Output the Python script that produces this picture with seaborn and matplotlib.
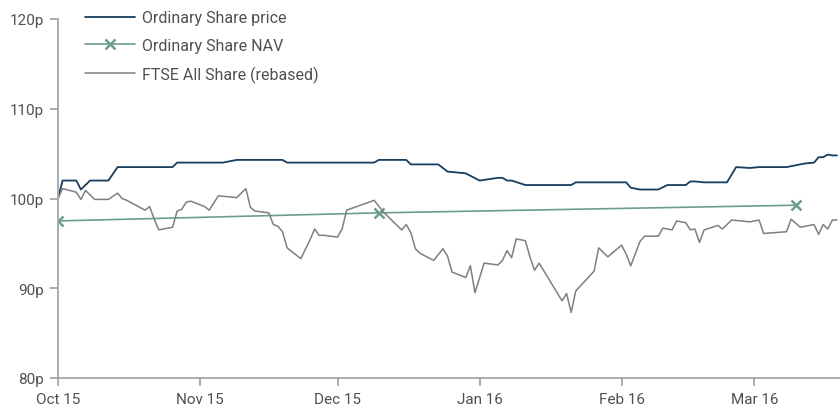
import pandas as pd
import numpy as np
import seaborn as sns
import matplotlib.pyplot as plt
import matplotlib.dates as mdates

# Ordinary Share price (pence)
price_dates = ['2015-10-01', '2015-10-02', '2015-10-05', '2015-10-06', '2015-10-08',
               '2015-10-12', '2015-10-14', '2015-10-26', '2015-10-27', '2015-11-06',
               '2015-11-09', '2015-11-19', '2015-11-20', '2015-12-09', '2015-12-10',
               '2015-12-16', '2015-12-17', '2015-12-23', '2015-12-24', '2015-12-25',
               '2015-12-29', '2016-01-01', '2016-01-05', '2016-01-06', '2016-01-07',
               '2016-01-08', '2016-01-11', '2016-01-21', '2016-01-22', '2016-02-02',
               '2016-02-03', '2016-02-05', '2016-02-09', '2016-02-11', '2016-02-15',
               '2016-02-16', '2016-02-17', '2016-02-19', '2016-02-24', '2016-02-26',
               '2016-02-29', '2016-03-02', '2016-03-08', '2016-03-10', '2016-03-12',
               '2016-03-14', '2016-03-15', '2016-03-16', '2016-03-17', '2016-03-18',
               '2016-03-19']
price_values = [100.0, 102.0, 102.0, 101.0, 102.0,
                102.0, 103.5, 103.5, 104.0, 104.0,
                104.3, 104.3, 104.0, 104.0, 104.3,
                104.3, 103.8, 103.8, 103.4, 103.0,
                102.8, 102.0, 102.3, 102.3, 102.0,
                102.0, 101.5, 101.5, 101.8, 101.8,
                101.2, 101.0, 101.0, 101.5, 101.5,
                101.9, 101.9, 101.8, 101.8, 103.5,
                103.4, 103.5, 103.5, 103.7, 103.9,
                104.0, 104.6, 104.6, 104.9, 104.8,
                104.8]

# Ordinary Share NAV (pence)
nav_dates = ['2015-10-01', '2015-12-10', '2016-03-10']
nav_values = [97.5, 98.4, 99.25]

# FTSE All Share rebased
ftse_dates = ['2015-10-01', '2015-10-02', '2015-10-05', '2015-10-06', '2015-10-07',
              '2015-10-09', '2015-10-12', '2015-10-14', '2015-10-15', '2015-10-16',
              '2015-10-20', '2015-10-21', '2015-10-22', '2015-10-23', '2015-10-26',
              '2015-10-27', '2015-10-28', '2015-10-29', '2015-10-30', '2015-11-02',
              '2015-11-03', '2015-11-05', '2015-11-09', '2015-11-11', '2015-11-12',
              '2015-11-13', '2015-11-16', '2015-11-17', '2015-11-18', '2015-11-19',
              '2015-11-20', '2015-11-23', '2015-11-25', '2015-11-26', '2015-11-27',
              '2015-11-28', '2015-12-01', '2015-12-02', '2015-12-03', '2015-12-09',
              '2015-12-11', '2015-12-15', '2015-12-16', '2015-12-17', '2015-12-18',
              '2015-12-19', '2015-12-22', '2015-12-24', '2015-12-25', '2015-12-26',
              '2015-12-29', '2015-12-30', '2015-12-31', '2016-01-02', '2016-01-05',
              '2016-01-06', '2016-01-07', '2016-01-08', '2016-01-09', '2016-01-11',
              '2016-01-12', '2016-01-13', '2016-01-14', '2016-01-19', '2016-01-20',
              '2016-01-21', '2016-01-22', '2016-01-26', '2016-01-27', '2016-01-29',
              '2016-02-01', '2016-02-02', '2016-02-03', '2016-02-05', '2016-02-06',
              '2016-02-09', '2016-02-10', '2016-02-12', '2016-02-13', '2016-02-15',
              '2016-02-16', '2016-02-17', '2016-02-18', '2016-02-19', '2016-02-22',
              '2016-02-23', '2016-02-25', '2016-02-29', '2016-03-02', '2016-03-03',
              '2016-03-08', '2016-03-09', '2016-03-11', '2016-03-14', '2016-03-15',
              '2016-03-16', '2016-03-17', '2016-03-18', '2016-03-19']
ftse_values = [100.0, 101.1, 100.7, 99.9, 100.9,
               99.9, 99.9, 100.6, 100.0, 99.8,
               98.7, 99.1, 97.7, 96.5, 96.8,
               98.6, 98.8, 99.6, 99.7, 99.1,
               98.7, 100.3, 100.1, 101.1, 99.0,
               98.6, 98.4, 97.1, 96.9, 96.3,
               94.5, 93.3, 95.4, 96.6, 95.9,
               95.9, 95.7, 96.6, 98.7, 99.8,
               98.5, 96.5, 97.1, 96.2, 94.4,
               93.9, 93.1, 94.4, 93.6, 91.8,
               91.2, 92.5, 89.5, 92.8, 92.6,
               93.1, 94.2, 93.4, 95.5, 95.3,
               93.5, 92.0, 92.8, 88.6, 89.4,
               87.3, 89.7, 91.9, 94.5, 93.5,
               94.8, 93.8, 92.5, 95.2, 95.8,
               95.8, 96.7, 96.5, 97.5, 97.3,
               96.5, 96.6, 95.1, 96.5, 97.0,
               96.6, 97.6, 97.4, 97.6, 96.1,
               96.3, 97.7, 96.8, 97.1, 96.0,
               97.1, 96.6, 97.6, 97.6]

month_ticks = ['2015-10-01', '2015-11-01', '2015-12-01', '2016-01-01', '2016-02-01', '2016-03-01']
y_ticks = [80, 90, 100, 110, 120]

navy = '#173d5f'
teal = '#6b9e8d'
grey = '#7f7f7f'
axis_grey = '#a6a6a6'
text_grey = '#505050'

sns.set_style('white')
plt.rcParams['font.family'] = ['Roboto', 'DejaVu Sans']

fig = plt.figure(figsize=(8.4, 4.1), dpi=100)
ax = fig.add_axes([58 / 840, 31 / 410, 1 - 58 / 840, 359 / 410])

price = pd.DataFrame({'date': pd.to_datetime(price_dates), 'value': price_values})
nav = pd.DataFrame({'date': pd.to_datetime(nav_dates), 'value': nav_values})
ftse = pd.DataFrame({'date': pd.to_datetime(ftse_dates), 'value': ftse_values})

sns.lineplot(data=price, x='date', y='value', ax=ax, color=navy, linewidth=1.3,
             label='Ordinary Share price')
sns.lineplot(data=nav, x='date', y='value', ax=ax, color=teal, linewidth=1.2,
             marker='x', markersize=7, markeredgewidth=1.8, markeredgecolor=teal,
             label='Ordinary Share NAV')
sns.lineplot(data=ftse, x='date', y='value', ax=ax, color=grey, linewidth=1.1,
             label='FTSE All Share (rebased)')

# axes limits and ticks
ax.set_xlim(pd.Timestamp('2015-10-01'), pd.Timestamp('2016-03-19 16:00'))
ax.set_ylim(80, 120)
ax.set_yticks(y_ticks)
ax.set_yticklabels([f'{v}p' for v in y_ticks])
ax.set_xticks(pd.to_datetime(month_ticks))
ax.xaxis.set_major_formatter(mdates.DateFormatter('%b %y'))
ax.set_xlabel('')
ax.set_ylabel('')

for side in ['top', 'right']:
    ax.spines[side].set_visible(False)
for side in ['left', 'bottom']:
    ax.spines[side].set_color(axis_grey)
    ax.spines[side].set_linewidth(1.3)

ax.tick_params(axis='both', which='major', direction='out', length=6, width=1.3,
               color=axis_grey, labelcolor=text_grey, labelsize=11,
               left=True, bottom=True)
ax.tick_params(axis='x', pad=4)
ax.tick_params(axis='y', pad=4)

leg = ax.legend(loc='upper left', bbox_to_anchor=(85 / 840, 0.972),
                bbox_transform=fig.transFigure, frameon=False, fontsize=11.5,
                handlelength=3.1, handletextpad=0.45, labelspacing=0.78,
                borderpad=0, borderaxespad=0)
for t in leg.get_texts():
    t.set_color(text_grey)

fig.savefig('out.png', dpi=100)
